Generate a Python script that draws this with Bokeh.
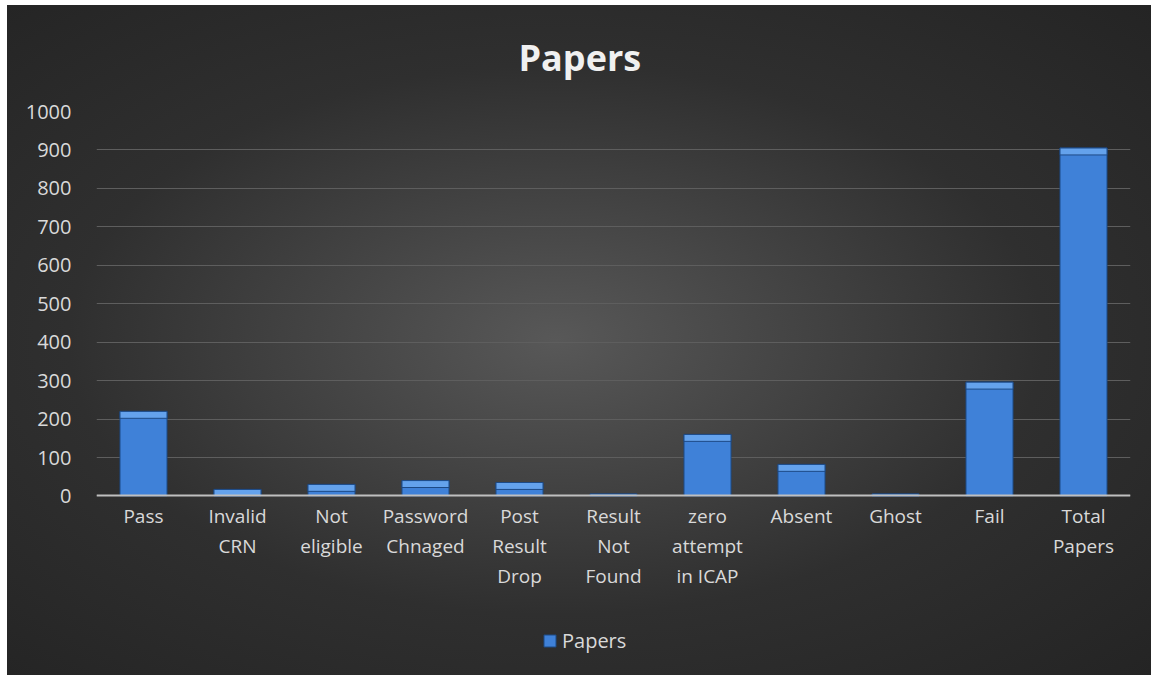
from bokeh.plotting import figure
from bokeh.models import ColumnDataSource, FactorRange, Range1d, Legend, LegendItem
from bokeh.embed import file_html
from bokeh.resources import INLINE
import numpy as np

categories = ["Pass", "Invalid\nCRN", "Not\neligible", "Password\nChnaged", "Post\nResult\nDrop",
              "Result\nNot\nFound", "zero\nattempt\nin ICAP", "Absent", "Ghost", "Fail", "Total\nPapers"]
papers = [220, 17, 30, 40, 35, 5, 160, 82, 5, 296, 905]
y_ticks = [0, 100, 200, 300, 400, 500, 600, 700, 800, 900, 1000]

FONT = "Open Sans"
TXT = "#d9d9d9"

vals = np.array(papers, dtype=float)
bevel = np.minimum(vals, 18.0)
src = ColumnDataSource(dict(cat=categories, top=vals,
                            btop=vals, bbot=vals - bevel))

BG = ("radial-gradient(ellipse farthest-corner at 48% 50%, #585858 0%, #2f2f2f 58%, #242424 100%) "
      "7px 5px / 1144px 670px no-repeat #ffffff")

# frame extends below the zero line so the category labels and legend sit inside it
p = figure(frame_width=1034, frame_height=564, x_range=FactorRange(*categories), y_range=Range1d(-467, 1000),
           output_backend="svg", toolbar_location=None, tools="",
           min_border_left=96, min_border_right=21, min_border_top=111, min_border_bottom=0,
           border_fill_color=None, background_fill_color=None, outline_line_color=None,
           styles={"background": BG})

p.title.text = "Papers"
p.title.align = "left"
p.title.offset = 422
p.title.standoff = 59
p.title.text_font = FONT
p.title.text_font_size = "36px"
p.title.text_font_style = "bold"
p.title.text_color = "#f0f0f0"

r = p.vbar(x="cat", top="top", width=0.5, source=src, fill_color="#3f81d8",
           line_color="#1d4a86", line_width=1)
p.vbar(x="cat", top="btop", bottom="bbot", width=0.5, source=src, fill_color="#64a2ec",
       line_color="#1d4a86", line_width=1)

p.yaxis.ticker = y_ticks
p.yaxis.axis_line_color = None
p.yaxis.major_tick_line_color = None
p.yaxis.minor_tick_line_color = None
p.yaxis.major_label_text_font = FONT
p.yaxis.major_label_text_font_size = "20px"
p.yaxis.major_label_text_color = TXT
p.yaxis.major_label_standoff = 19

p.xaxis.fixed_location = 0
p.xaxis.axis_line_color = "#bfbfbf"
p.xaxis.axis_line_width = 2
p.xaxis.major_tick_line_color = None
p.xaxis.minor_tick_line_color = None
p.xaxis.major_label_text_font = FONT
p.xaxis.major_label_text_font_size = "19px"
p.xaxis.major_label_text_color = TXT
p.xaxis.major_label_text_line_height = 1.15
p.xaxis.major_label_standoff = 1

p.xgrid.grid_line_color = None
p.ygrid.grid_line_color = "#5e5e5e"
p.ygrid.grid_line_width = 1

legend = Legend(items=[LegendItem(label="Papers", renderers=[r])], orientation="horizontal",
                location=(446, 21), background_fill_alpha=0, border_line_color=None,
                label_text_font=FONT, label_text_font_size="20px", label_text_color=TXT,
                glyph_width=15, glyph_height=15, margin=0, padding=4, label_standoff=5)
p.add_layout(legend, "center")

open("out.html", "w").write(file_html(p, INLINE))
